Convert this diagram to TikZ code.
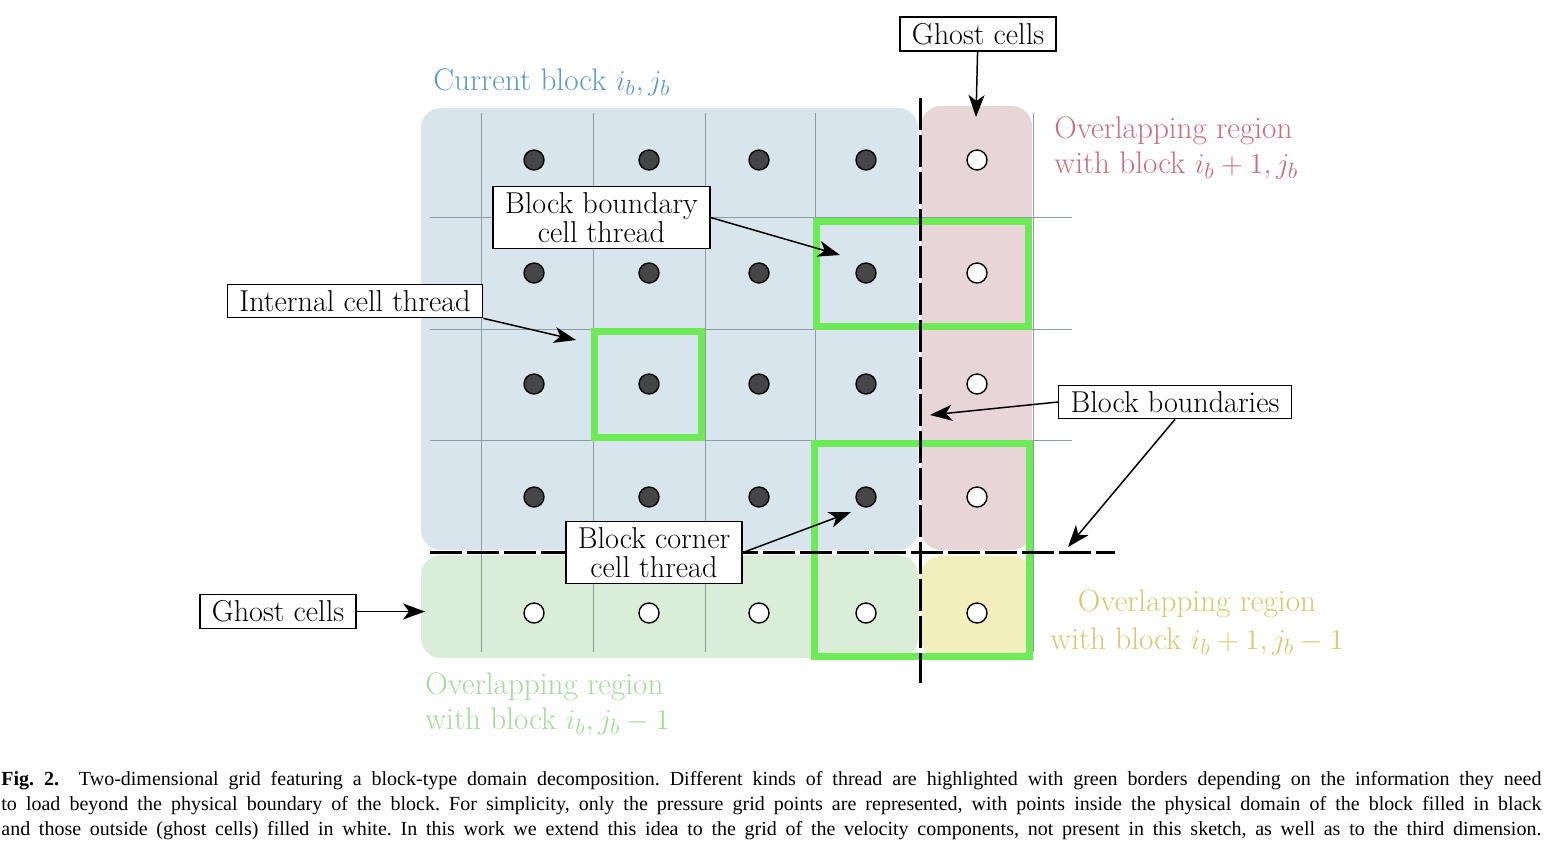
\documentclass[tikz,border=0pt]{standalone}
\usepackage{amsmath,amssymb}
\usepackage{fontspec}
\usepackage{xcolor}
\usepackage{tikz}
\usetikzlibrary{arrows.meta}
\newfontfamily\capfont{Liberation Serif}
\newcommand{\lblfont}{\fontsize{15.1}{14.5}\selectfont}
\definecolor{blk}{HTML}{D9E5EC}
\definecolor{ovr}{HTML}{E8D5D8}
\definecolor{ovg}{HTML}{DAEDD8}
\definecolor{ovy}{HTML}{F3EFBC}
\definecolor{gridc}{HTML}{8E9BA6}
\definecolor{thrc}{HTML}{6DEB57}
\definecolor{dotc}{HTML}{464646}
\definecolor{txtb}{HTML}{5B9BC6}
\definecolor{txtr}{HTML}{CB6D80}
\definecolor{txty}{HTML}{D3CA6C}
\definecolor{txtg}{HTML}{A3DB9B}
\tikzset{
  region/.style={rounded corners=10pt},
  gridln/.style={draw=gridc, line width=0.5pt},
  bndry/.style={draw=black, line width=1.5pt, dash pattern=on 16pt off 2.5pt},
  thr/.style={draw=thrc, line width=3.5pt},
  inpt/.style={circle, draw=black, line width=0.7pt, fill=dotc, minimum size=10pt, inner sep=0pt},
  ghpt/.style={inpt, fill=white},
  tag/.style={draw=black, fill=white, line width=0.75pt, font=\lblfont, inner xsep=6pt, inner ysep=3pt, align=center},
  arr/.style={-{Stealth[length=11pt,width=8pt,inset=3pt]}, line width=0.75pt},
  rlab/.style={font=\fontsize{15.6}{17.5}\selectfont, inner sep=0pt},
}

\begin{document}
\begin{tikzpicture}[x=0.5pt,y=-0.5pt]
  \useasboundingbox (0,0) rectangle (1552,848);
  % regions
  \fill[region,blk] (421,108) rectangle (918,550);
  \fill[region,ovr] (921,106) rectangle (1032,550);
  \fill[region,ovg] (421,555) rectangle (918,658);
  \fill[region,ovy] (921,556) rectangle (1032,658);
  % grid
  \foreach \x in {481,593,705,815,1033}
    \draw[gridln] (\x,113) -- (\x,652);
  \foreach \y in {217,329,440}
    \draw[gridln] (430,\y) -- (1072,\y);
  % threads
  \draw[thr] (594.5,331.5) rectangle (701.5,437.5);
  \draw[thr] (816.5,221.5) rectangle (1028.5,326.5);
  \draw[thr] (814.5,443.5) rectangle (1029.5,656.5);
  % grid points
  \foreach \x [count=\i] in {534,649,759,866}
    \foreach \y [count=\j] in {160,273,384,497}
      \node[inpt] (p-\i-\j) at (\x,\y) {};
  \foreach \y [count=\j] in {160,273,384,497}
    \node[ghpt] (g-5-\j) at (977,\y) {};
  \foreach \x [count=\i] in {534,649,759,866,977}
    \node[ghpt] (g-\i-5) at (\x,613) {};
  % block boundaries
  \draw[bndry] (920,98) -- (920,683);
  \draw[bndry] (430,552) -- (1115,552);
  % region labels
  \node[rlab,text=txtb,anchor=base west] (curb) at (433,90) {Current block $i_b, j_b$};
  \node[rlab,text=txtr,anchor=north west,align=left] (ovrl) at (1054,116)
    {Overlapping region\\with block $i_b+1, j_b$};
  \node[rlab,text=txty,anchor=north,align=center,font=\fontsize{15.6}{19}\selectfont] (ovyl) at (1197,589)
    {Overlapping region\\with block $i_b+1, j_b-1$};
  \node[rlab,text=txtg,anchor=north west,align=left] (ovgl) at (425,672)
    {Overlapping region\\with block $i_b, j_b-1$};
  % callouts
  \node[tag] (ghtop) at (978,34) {Ghost cells};
  \node[tag] (bbct) at (601.5,217.5) {Block boundary\\cell thread};
  \node[tag] (ict) at (355,301) {Internal cell thread};
  \node[tag] (bb) at (1175,402) {Block boundaries};
  \node[tag] (bct) at (654,552.5) {Block corner\\cell thread};
  \node[tag] (ghleft) at (278,611.5) {Ghost cells};
  \coordinate (ghtop-t) at (976,117);
  \coordinate (bbct-t) at (840,255);
  \coordinate (ict-t) at (576,340);
  \coordinate (bbv-t) at (930,415);
  \coordinate (bbh-t) at (1068,547);
  \coordinate (bct-t) at (851,512);
  \coordinate (ghleft-t) at (425,611.5);
  \draw[arr] (ghtop) -- (ghtop-t);
  \draw[arr] (bbct.east) -- (bbct-t);
  \draw[arr] (ict.south east) -- (ict-t);
  \draw[arr] (bb.west) -- (bbv-t);
  \draw[arr] (bb.south) -- (bbh-t);
  \draw[arr] (bct.east) -- (bct-t);
  \draw[arr] (ghleft) -- (ghleft-t);
  % caption
  \node[anchor=north west, inner sep=0pt, text width=770pt, align=justify,
        font=\capfont\fontsize{10}{12.5}\selectfont] (cap) at (1,771)
    {\frenchspacing\textbf{Fig. 2.}\ \ Two-dimensional grid featuring a block-type domain decomposition. Different kinds of thread are highlighted with green borders depending on the information they need\linebreak
     to load beyond the physical boundary of the block. For simplicity, only the pressure grid points are represented, with points inside the physical domain of the block filled in black\linebreak
     and those outside (ghost cells) filled in white. In this work we extend this idea to the grid of the velocity components, not present in this sketch, as well as to the third dimension.\parfillskip=0pt\par};
\end{tikzpicture}
\end{document}
